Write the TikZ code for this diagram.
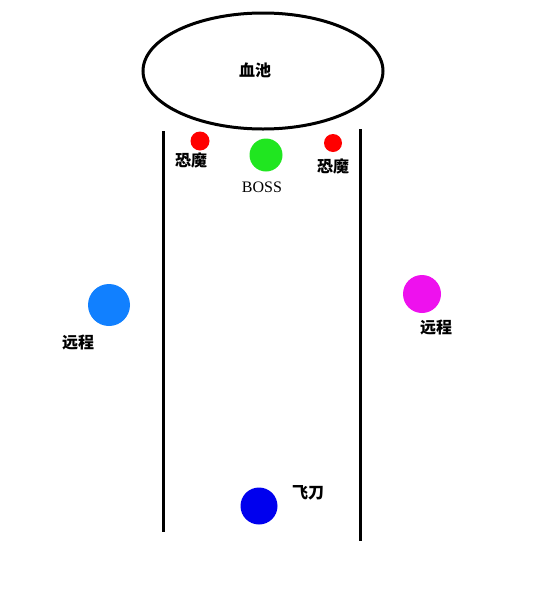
\documentclass[tikz,border=0pt]{standalone}
\usepackage{fontspec}
\newfontfamily\cjk{Noto Sans CJK SC}
\newfontfamily\lserif{Liberation Serif}
\begin{document}
\begin{tikzpicture}[x=1pt,y=-1pt,
  wall/.style={line width=3pt},
  dot/.style={circle,inner sep=0pt,draw=none},
  lbl/.style={font=\cjk\bfseries\fontsize{16}{16}\selectfont},
  lbls/.style={font=\lserif\fontsize{16}{16}\selectfont}]
\useasboundingbox (0,0) rectangle (550,603);
\draw[line width=3pt] (263,71) ellipse [x radius=120, y radius=58];
\node[lbl] (pool) at (255,70) {血池};
\coordinate (lt) at (163,131);
\coordinate (lb) at (163,532);
\coordinate (rt) at (360,129);
\coordinate (rb) at (360,541);
\draw[wall] (lt) -- (lb);
\draw[wall] (rt) -- (rb);
\node[dot,fill=red,minimum size=19pt] (d1) at (200,141) {};
\node[dot,fill=red,minimum size=18pt] (d2) at (333,143) {};
\node[dot,fill={rgb,255:red,32;green,230;blue,32},minimum size=33pt] (boss) at (266,155) {};
\node[lbl] (t1) at (191,160) {恐魔};
\node[lbl] (t2) at (333,166) {恐魔};
\node[lbls] (tb) at (262,187) {BOSS};
\node[dot,fill={rgb,255:red,17;green,128;blue,255},minimum size=42pt] (r1) at (109,305) {};
\node[lbl] (tr1) at (78,343) {远程};
\node[dot,fill={rgb,255:red,238;green,17;blue,238},minimum size=38pt] (r2) at (422,294) {};
\node[lbl] (tr2) at (436,328) {远程};
\node[dot,fill={rgb,255:red,0;green,0;blue,238},minimum size=37pt] (fd) at (259,506) {};
\node[lbl] (tfd) at (308,493) {飞刀};
\end{tikzpicture}
\end{document}
